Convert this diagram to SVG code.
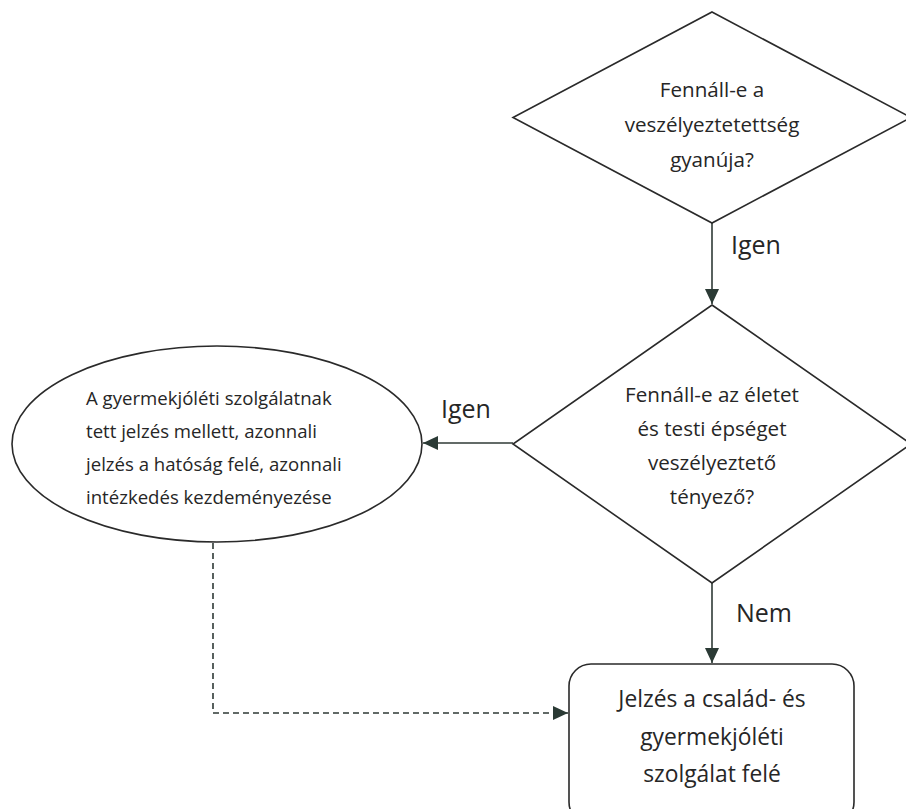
<svg xmlns="http://www.w3.org/2000/svg" width="906" height="809" viewBox="0 0 906 809">
<style>
.shape{fill:#fff;stroke:#2a2a2a;stroke-width:1.6}
.t{font-family:"Open Sans","Liberation Sans",sans-serif;fill:#262626}
.c{text-anchor:middle;font-size:20.6px}
.b{text-anchor:middle;font-size:22.8px}
.e{font-size:18.6px}
.lbl{font-size:25px}
.conn{fill:none;stroke:#2f3a36;stroke-width:1.6}
.dash{stroke-dasharray:6 4}
</style>
<defs>
<marker id="ah" markerUnits="userSpaceOnUse" markerWidth="16" markerHeight="14" refX="15" refY="7" orient="auto">
<path d="M0,0 L15,7 L0,14 Z" fill="#2b3a35"/>
</marker>
</defs>
<rect width="906" height="809" fill="#fff"/>
<g id="connectors">
<line class="conn" x1="712" y1="223" x2="712" y2="304" marker-end="url(#ah)"/>
<line class="conn" x1="513" y1="443" x2="423" y2="443" marker-end="url(#ah)"/>
<line class="conn" x1="712" y1="583" x2="712" y2="663" marker-end="url(#ah)"/>
<polyline class="conn dash" points="213,543 213,713 568,713" marker-end="url(#ah)"/>
<text class="t lbl" x="731" y="254">Igen</text>
<text class="t lbl" x="441" y="418">Igen</text>
<text class="t lbl" x="736" y="622">Nem</text>
</g>
<g id="d1">
<polygon class="shape" points="712,12 911,117.5 712,223 513,117.5"/>
<text class="t c" x="712" y="97">Fennáll-e a</text>
<text class="t c" x="712" y="132">veszélyeztetettség</text>
<text class="t c" x="712" y="167">gyanúja?</text>
</g>
<g id="d2">
<polygon class="shape" points="712,305 911,444 712,583 513,444"/>
<text class="t c" x="712" y="402">Fennáll-e az életet</text>
<text class="t c" x="712" y="436">és testi épséget</text>
<text class="t c" x="712" y="470">veszélyeztető</text>
<text class="t c" x="712" y="504">tényező?</text>
</g>
<g id="ellipse">
<ellipse class="shape" cx="217" cy="444" rx="205" ry="98"/>
<text class="t e" x="86" y="405">A gyermekjóléti szolgálatnak</text>
<text class="t e" x="86" y="438">tett jelzés mellett, azonnali</text>
<text class="t e" x="86" y="471">jelzés a hatóság felé, azonnali</text>
<text class="t e" x="86" y="504">intézkedés kezdeményezése</text>
</g>
<g id="box">
<rect class="shape" x="569" y="664" width="285" height="160" rx="22"/>
<text class="t b" x="712" y="707">Jelzés a család- és</text>
<text class="t b" x="712" y="745">gyermekjóléti</text>
<text class="t b" x="712" y="782">szolgálat felé</text>
</g>
</svg>
